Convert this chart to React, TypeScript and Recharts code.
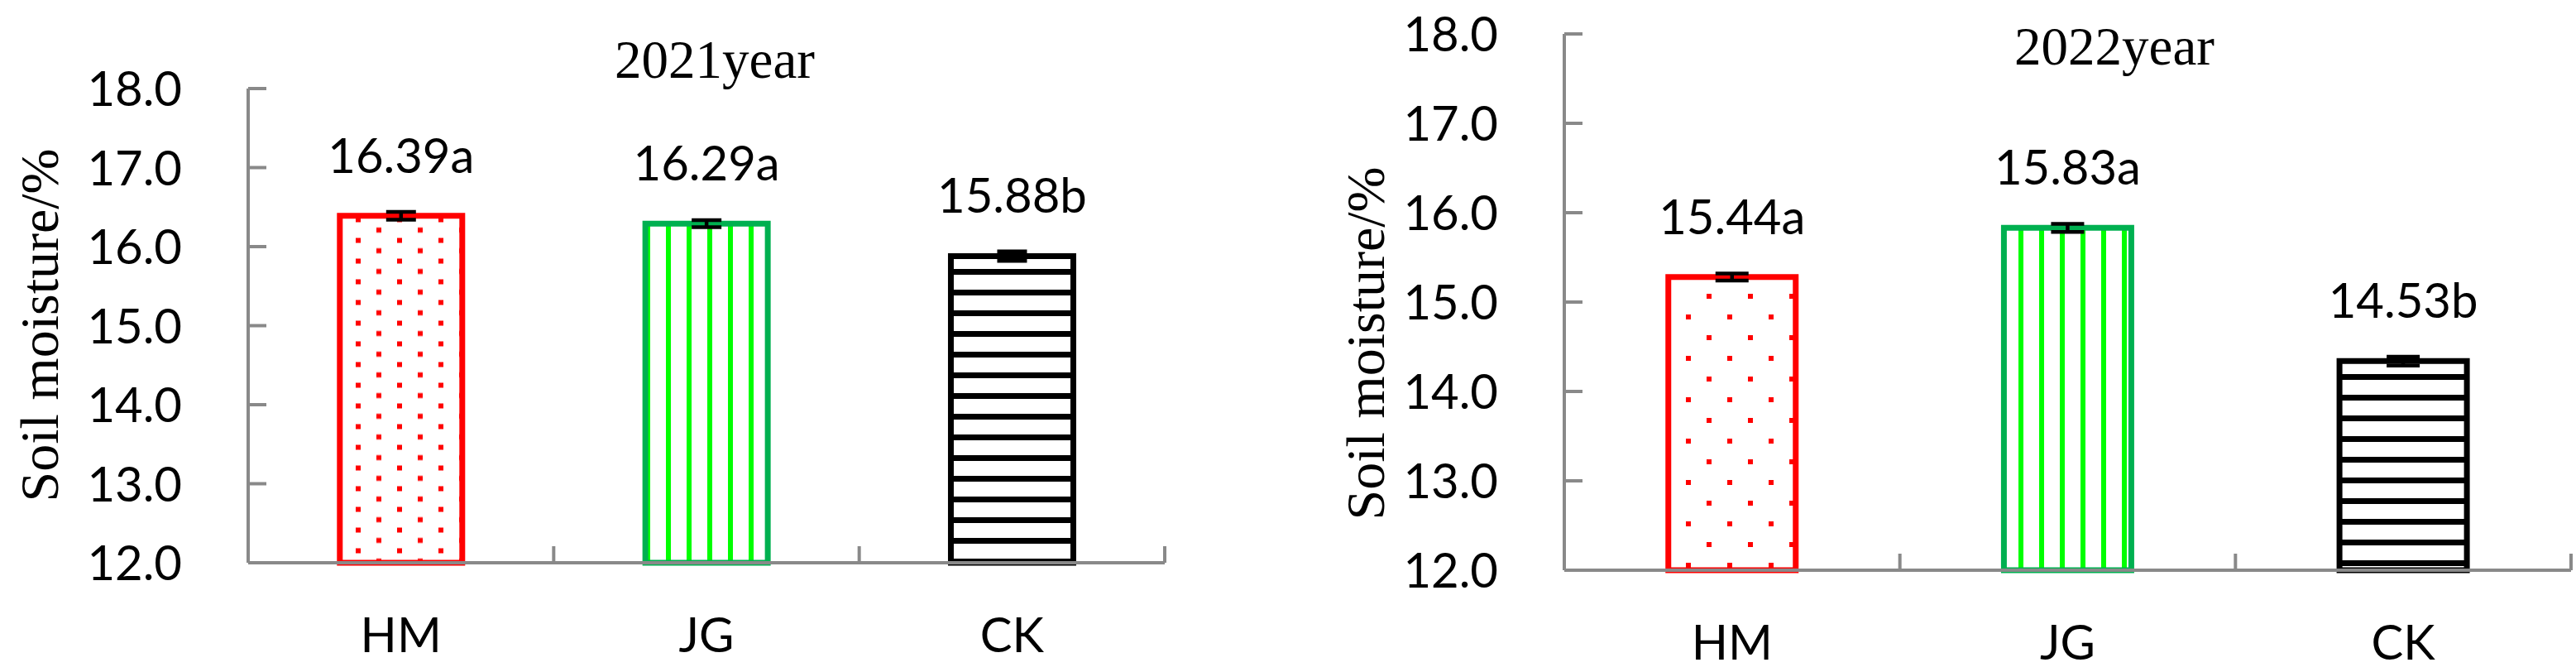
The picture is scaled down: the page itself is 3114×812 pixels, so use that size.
import React from "react";
import { BarChart, Bar, XAxis, YAxis, Cell, ErrorBar, LabelList } from "recharts";

// data
const categories = ["HM", "JG", "CK"];

const moisture2021 = [16.39, 16.29, 15.88];
const error2021 = [0.05, 0.045, 0.06];
const labels2021 = ["16.39a", "16.29a", "15.88b"];

const moisture2022 = [15.28, 15.83, 14.34];
const error2022 = [0.04, 0.045, 0.05];
const labels2022 = ["15.44a", "15.83a", "14.53b"];

const yTicks = [12, 13, 14, 15, 16, 17, 18];

const H = 812;
const GREY = "#898989";
const SANS = "Lato, 'Noto Sans', sans-serif";
const SERIF = "'Liberation Serif', 'Times New Roman', serif";
const OUTLINES = ["#FF0000", "#00B050", "#000000"];

const panel2021 = {
  id: "p21",
  left: 0,
  width: 1560,
  plotLeft: 300,
  plotRight: 1408,
  plotTop: 107,
  plotBottom: 680,
  gap: "30%",
  capWidth: 18,
  dotsH: 25,
  dotsX: 30,
  dotsY: 12.5,
  stripeX: 5,
  stripeY: 0,
  titleX: 864,
  titleY: 94,
  ylabX: 70,
  ylabY: 393,
};

const panel2022 = {
  id: "p22",
  left: 1560,
  width: 1554,
  plotLeft: 331,
  plotRight: 1548,
  plotTop: 41,
  plotBottom: 689,
  gap: "31%",
  capWidth: 20,
  dotsH: 50,
  dotsX: 3,
  dotsY: 5,
  stripeX: 5,
  stripeY: 2,
  titleX: 996,
  titleY: 78,
  ylabX: 113,
  ylabY: 415,
};

const YTick = (props: any) => {
  const { x, y, payload } = props;
  return (
    <g>
      <line x1={x + 80} x2={x + 102} y1={y} y2={y} stroke={GREY} strokeWidth={4} />
      <text x={x} y={y} dy={21} textAnchor="end" fontFamily={SANS} fontSize={58} fill="#000">
        {Number(payload.value).toFixed(1)}
      </text>
    </g>
  );
};

const XTick = (props: any) => {
  const { x, y, payload, band } = props;
  return (
    <g>
      <line x1={x + band / 2} x2={x + band / 2} y1={y} y2={y - 20} stroke={GREY} strokeWidth={4} />
      <text x={x} y={y + 108} textAnchor="middle" fontFamily={SANS} fontSize={58} fill="#000">
        {payload.value}
      </text>
    </g>
  );
};

function Panel({ cfg, values, errors, labels, title }: any) {
  const data = categories.map((c, i) => ({
    name: c,
    value: values[i],
    err: errors[i],
    label: labels[i],
  }));
  const band = (cfg.plotRight - cfg.plotLeft) / categories.length;
  const fills = [`url(#${cfg.id}dots)`, `url(#${cfg.id}vs)`, `url(#${cfg.id}hs)`];

  return (
    <div style={{ position: "absolute", left: cfg.left, top: 0, width: cfg.width, height: H }}>
      <BarChart
        width={cfg.width}
        height={H}
        data={data}
        margin={{ top: cfg.plotTop, right: cfg.width - cfg.plotRight, bottom: 0, left: 0 }}
        barCategoryGap={cfg.gap}
      >
        <defs>
          <pattern id={`${cfg.id}dots`} patternUnits="userSpaceOnUse" x={cfg.dotsX} y={cfg.dotsY} width={50} height={cfg.dotsH}>
            <rect width={50} height={cfg.dotsH} fill="#fff" />
            <rect x={0} y={0} width={6} height={6} fill="#FF0000" />
            <rect x={25} y={cfg.dotsH / 2} width={6} height={6} fill="#FF0000" />
          </pattern>
          <pattern id={`${cfg.id}vs`} patternUnits="userSpaceOnUse" x={cfg.stripeX} y={0} width={25} height={10}>
            <rect width={25} height={10} fill="#fff" />
            <rect x={0} y={0} width={6} height={10} fill="#00FF00" />
          </pattern>
          <pattern id={`${cfg.id}hs`} patternUnits="userSpaceOnUse" x={0} y={cfg.stripeY} width={10} height={25}>
            <rect width={10} height={25} fill="#fff" />
            <rect x={0} y={0} width={10} height={7} fill="#000" />
          </pattern>
        </defs>

        <XAxis
          dataKey="name"
          height={H - cfg.plotBottom}
          axisLine={{ stroke: GREY, strokeWidth: 4 }}
          tickLine={false}
          tickSize={0}
          tickMargin={0}
          interval={0}
          tick={(p: any) => <XTick {...p} band={band} />}
        />
        <YAxis
          type="number"
          domain={[12, 18]}
          ticks={yTicks}
          interval={0}
          width={cfg.plotLeft}
          axisLine={{ stroke: GREY, strokeWidth: 4 }}
          tickLine={false}
          tickSize={0}
          tickMargin={80}
          tick={(p: any) => <YTick {...p} />}
        />

        <Bar dataKey="value" strokeWidth={7} isAnimationActive={false}>
          {data.map((d, i) => (
            <Cell key={d.name} fill={fills[i]} stroke={OUTLINES[i]} />
          ))}
          <ErrorBar dataKey="err" direction="y" width={cfg.capWidth} stroke="#000" strokeWidth={4.5} />
          <LabelList dataKey="label" position="top" offset={52} fontSize={58} fontFamily={SANS} fill="#000" />
        </Bar>
      </BarChart>

      <svg
        width={cfg.width}
        height={H}
        style={{ position: "absolute", left: 0, top: 0, pointerEvents: "none" }}
      >
        <text x={cfg.titleX} y={cfg.titleY} textAnchor="middle" fontFamily={SERIF} fontSize={65} fill="#000">
          {title}
        </text>
        <text
          transform={`translate(${cfg.ylabX},${cfg.ylabY}) rotate(-90)`}
          textAnchor="middle"
          fontFamily={SERIF}
          fontSize={66}
          fill="#000"
        >
          Soil moisture/%
        </text>
      </svg>
    </div>
  );
}

export default function App() {
  return (
    <div style={{ position: "absolute", left: 0, top: 0, width: 3114, height: H, background: "#fff" }}>
      <Panel cfg={panel2021} values={moisture2021} errors={error2021} labels={labels2021} title="2021year" />
      <Panel cfg={panel2022} values={moisture2022} errors={error2022} labels={labels2022} title="2022year" />
    </div>
  );
}
